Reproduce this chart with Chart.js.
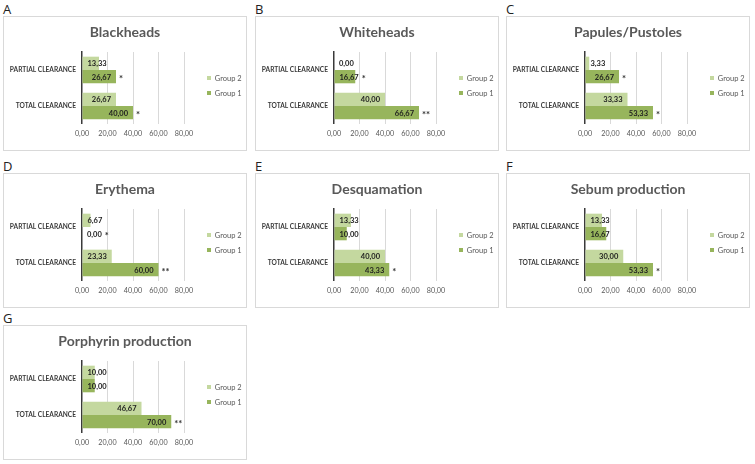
<!DOCTYPE html>
<html>
<head>
<meta charset="utf-8">
<script src="https://cdn.jsdelivr.net/npm/chart.js@4.4.1/dist/chart.umd.min.js"></script>
<style>
  html, body { margin:0; padding:0; background:#fff; }
  body { width:755px; height:464px; position:relative; overflow:hidden; font-family: Lato, "Open Sans", sans-serif; }
  .letter { position:absolute; font-size:13px; color:#222; font-family: "Open Sans", Lato, sans-serif; line-height:13px; }
  .panel { position:absolute; width:244px; height:135px; box-sizing:border-box; border:1px solid #d9d9d9; background:#fff; }
  .panel canvas { position:absolute; left:0; top:0; }
</style>
</head>
<body>
<script>
// ---- data ----
const categories = ['PARTIAL CLEARANCE', 'TOTAL CLEARANCE'];
const seriesNames = ['Group 2', 'Group 1'];
const panelLetters = ['A', 'B', 'C', 'D', 'E', 'F', 'G'];
const panelTitles = ['Blackheads', 'Whiteheads', 'Papules/Pustoles', 'Erythema', 'Desquamation', 'Sebum production', 'Porphyrin production'];
const group2Values = [[13.33, 26.67], [0.00, 40.00], [3.33, 33.33], [6.67, 23.33], [13.33, 40.00], [13.33, 30.00], [10.00, 46.67]];
const group1Values = [[26.67, 40.00], [16.67, 66.67], [26.67, 53.33], [0.00, 60.00], [10.00, 43.33], [16.67, 53.33], [10.00, 70.00]];
const group1Marks = [['*', '*'], ['*', '**'], ['*', '*'], ['*', '**'], ['', '*'], ['', '*'], ['', '**']];
const tickValues = [0, 20, 40, 60, 80];

// ---- layout ----
const colX = [3, 255, 506];
const rowY = [16, 173, 325];
const colors = ['#c4d89f', '#97b55c'];

function fmt(v) { return v.toFixed(2).replace('.', ','); }

const legendFix = {
  id: 'legendFix',
  beforeLayout(chart) {
    const lg = chart.legend;
    if (lg && !lg._fixed) {
      const f = lg.fit.bind(lg);
      lg.fit = function () { f(); this.width = 62; };
      lg._fixed = true;
    }
  },
  afterLayout(chart) {
    const lg = chart.legend;
    if (lg) { lg.left += 15.5; lg.right += 15.5; lg.top += 5; lg.bottom += 5; }
  }
};

const barLabels = {
  id: 'barLabels',
  afterDatasetsDraw(chart) {
    const ctx = chart.ctx;
    ctx.save();
    ctx.textBaseline = 'middle';
    chart.data.datasets.forEach((ds, di) => {
      const meta = chart.getDatasetMeta(di);
      meta.data.forEach((bar, i) => {
        const v = ds.data[i];
        const txt = fmt(v);
        ctx.font = 'bold 7.5px Lato';
        const w = ctx.measureText(txt).width;
        let xr = bar.x - 5;
        let xl = xr - w;
        if (xl < bar.base + 5) { xl = bar.base + 5; xr = xl + w; }
        ctx.fillStyle = '#1e1e1e';
        ctx.textAlign = 'left';
        ctx.fillText(txt, xl, bar.y + 0.5);
        const mark = ds.marks ? ds.marks[i] : '';
        if (mark) {
          ctx.font = 'bold 9.5px Lato';
          ctx.fillStyle = '#333';
          const mx = Math.max(bar.x, xr) + 3;
          ctx.fillText(mark, mx, bar.y + 2.5);
        }
      });
    });
    ctx.restore();
  }
};

panelTitles.forEach((title, p) => {
  const x = colX[p % 3], y = rowY[Math.floor(p / 3)];
  const lt = document.createElement('div');
  lt.className = 'letter';
  lt.style.left = x + 'px';
  lt.style.top = (y - 13) + 'px';
  lt.textContent = panelLetters[p];
  document.body.appendChild(lt);

  const box = document.createElement('div');
  box.className = 'panel';
  box.style.left = x + 'px';
  box.style.top = y + 'px';
  const cv = document.createElement('canvas');
  cv.width = 242; cv.height = 133;
  cv.style.width = '242px'; cv.style.height = '133px';
  box.appendChild(cv);
  document.body.appendChild(box);

  new Chart(cv, {
    type: 'bar',
    data: {
      labels: categories,
      datasets: [
        { label: seriesNames[0], data: group2Values[p], backgroundColor: colors[0], marks: ['', ''] },
        { label: seriesNames[1], data: group1Values[p], backgroundColor: colors[1], marks: group1Marks[p] }
      ]
    },
    options: {
      indexAxis: 'y',
      responsive: false,
      animation: false,
      devicePixelRatio: 1,
      categoryPercentage: 0.74,
      barPercentage: 1,
      layout: { padding: { left: 0, right: 0, top: 0, bottom: 5.8 } },
      events: [],
      scales: {
        x: {
          min: 0, max: 80,
          afterBuildTicks(scale) { scale.ticks = tickValues.map(v => ({ value: v })); },
          ticks: {
            callback: v => fmt(v),
            font: { family: 'Lato', size: 7.2 },
            color: '#595959',
            padding: 5.8,
            maxRotation: 0
          },
          grid: {
            drawTicks: false,
            color: ctx => (ctx.tick && ctx.tick.value === 0) ? 'rgba(0,0,0,0)' : '#d9d9d9',
            lineWidth: 1
          },
          border: { display: false }
        },
        y: {
          afterFit(scale) { scale.width = 78; },
          ticks: {
            font: { family: 'Lato', size: 6.6, weight: 'bold' },
            color: '#3a3a3a',
            padding: 6
          },
          grid: { display: false, drawTicks: false },
          border: { display: true, color: '#3a3a3a', width: 1.5 }
        }
      },
      plugins: {
        title: {
          display: true,
          text: title,
          color: '#595959',
          font: { family: 'Lato', size: 14, weight: 'bold' },
          padding: { top: 6.6, bottom: 11.6 }
        },
        legend: {
          position: 'right',
          labels: {
            boxWidth: 4, boxHeight: 4,
            padding: 7.5,
            color: '#595959',
            font: { family: 'Lato', size: 7.5 }
          }
        },
        tooltip: { enabled: false }
      }
    },
    plugins: [legendFix, barLabels]
  });
});
</script>
</body>
</html>
